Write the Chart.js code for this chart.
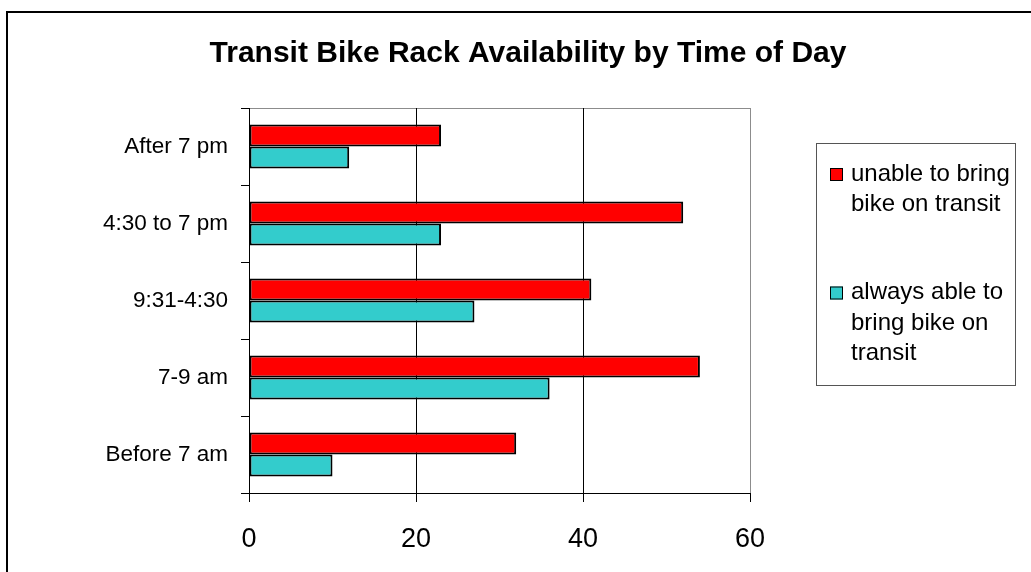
<!DOCTYPE html>
<html>
<head>
<meta charset="utf-8">
<title>Transit Bike Rack Availability by Time of Day</title>
<script src="https://cdn.jsdelivr.net/npm/chart.js@4.4.1/dist/chart.umd.min.js"></script>
<style>
  html, body { margin: 0; padding: 0; background: #fff; }
  canvas { display: block; }
</style>
</head>
<body>
<canvas id="rackChart" width="1031" height="572"></canvas>
<script>
const chartTitle = "Transit Bike Rack Availability by Time of Day";
const timesOfDay = ["After 7 pm", "4:30 to 7 pm", "9:31-4:30", "7-9 am", "Before 7 am"];
const seriesNames = ["unable to bring bike on transit", "always able to bring bike on transit"];
const unableToBring = [23, 52, 41, 54, 32];
const alwaysAble = [12, 23, 27, 36, 10];
const xTicks = [0, 20, 40, 60];

const fontFamily = "'Liberation Sans', Arial, sans-serif";

// split a legend label into lines that fit the box
function wrapText(ctx, text, maxWidth) {
  const words = text.split(" ");
  const lines = [];
  let line = "";
  words.forEach((w) => {
    const test = line ? line + " " + w : w;
    if (line && ctx.measureText(test).width > maxWidth) {
      lines.push(line);
      line = w;
    } else {
      line = test;
    }
  });
  if (line) lines.push(line);
  return lines;
}

const frameTitleLegend = {
  id: "frameTitleLegend",
  beforeDraw(chart) {
    const ctx = chart.ctx;
    const a = chart.chartArea;
    ctx.save();
    ctx.fillStyle = "#fff";
    ctx.fillRect(0, 0, chart.width, chart.height);

    // outer frame, cut off by the page edge
    ctx.strokeStyle = "#000";
    ctx.lineWidth = 2;
    ctx.strokeRect(7, 12, chart.width + 20, chart.height + 20);

    // plot area border
    ctx.strokeStyle = "#8c8c8c";
    ctx.lineWidth = 1;
    ctx.strokeRect(Math.round(a.left) + 0.5, Math.round(a.top) + 0.5,
      Math.round(a.right - a.left), Math.round(a.bottom - a.top));

    ctx.fillStyle = "#000";
    ctx.font = "bold 30px " + fontFamily;
    ctx.textAlign = "center";
    ctx.textBaseline = "alphabetic";
    ctx.fillText(chartTitle, 528, 62);
    ctx.restore();
  },
  afterDraw(chart) {
    const ctx = chart.ctx;
    ctx.save();
    ctx.strokeStyle = "#555";
    ctx.lineWidth = 1;
    ctx.strokeRect(816.5, 143.5, 199, 242);

    ctx.font = "24px " + fontFamily;
    ctx.textAlign = "left";
    ctx.textBaseline = "middle";
    const lineH = 30.5;
    let y = 174;
    chart.data.datasets.forEach((ds) => {
      ctx.fillStyle = ds.backgroundColor;
      ctx.fillRect(830, y - 6, 13, 13);
      ctx.strokeStyle = "#000";
      ctx.strokeRect(830.5, y - 5.5, 12, 12);
      ctx.fillStyle = "#000";
      const lines = wrapText(ctx, ds.label, 166);
      lines.forEach((ln, i) => ctx.fillText(ln, 851, y + i * lineH));
      y += (lines.length - 1) * lineH + 88;
    });
    ctx.restore();
  },
};

const rackChart = new Chart(document.getElementById("rackChart"), {
  type: "bar",
  data: {
    labels: timesOfDay,
    datasets: [
      {
        label: seriesNames[0],
        data: unableToBring,
        backgroundColor: "#ff0000",
      },
      {
        label: seriesNames[1],
        data: alwaysAble,
        backgroundColor: "#33cccc",
      },
    ],
  },
  options: {
    indexAxis: "y",
    responsive: false,
    animation: false,
    devicePixelRatio: 1,
    layout: { padding: { top: 108, right: 281, left: 0, bottom: 0 } },
    datasets: {
      bar: {
        borderColor: "#000",
        borderWidth: 2,
        borderSkipped: false,
        categoryPercentage: 0.572,
        barPercentage: 1,
      },
    },
    plugins: {
      legend: { display: false },
      title: { display: false },
      tooltip: { enabled: false },
    },
    scales: {
      x: {
        min: 0,
        max: 60,
        afterBuildTicks: (scale) => {
          scale.ticks = xTicks.map((v) => ({ value: v }));
        },
        afterFit: (scale) => {
          scale.height = 79;
        },
        grid: {
          color: (c) => {
            if (!c.tick) return "rgba(0,0,0,0)";
            if (c.tick.value === 20 || c.tick.value === 40) return "#000";
            return "rgba(0,0,0,0)";
          },
          tickColor: "#000",
          tickLength: 9,
          lineWidth: 1,
        },
        border: { color: "#000", width: 1 },
        ticks: {
          color: "#000",
          font: { family: fontFamily, size: 27 },
          padding: 21,
          maxRotation: 0,
        },
      },
      y: {
        afterFit: (scale) => {
          scale.width = 249;
        },
        grid: {
          drawOnChartArea: false,
          offset: true,
          tickLength: 8,
          color: "#000",
          tickColor: "#000",
        },
        border: { color: "#000", width: 1 },
        ticks: {
          color: "#000",
          font: { family: fontFamily, size: 22.5 },
          padding: 13,
        },
      },
    },
  },
  plugins: [frameTitleLegend],
});
</script>
</body>
</html>
